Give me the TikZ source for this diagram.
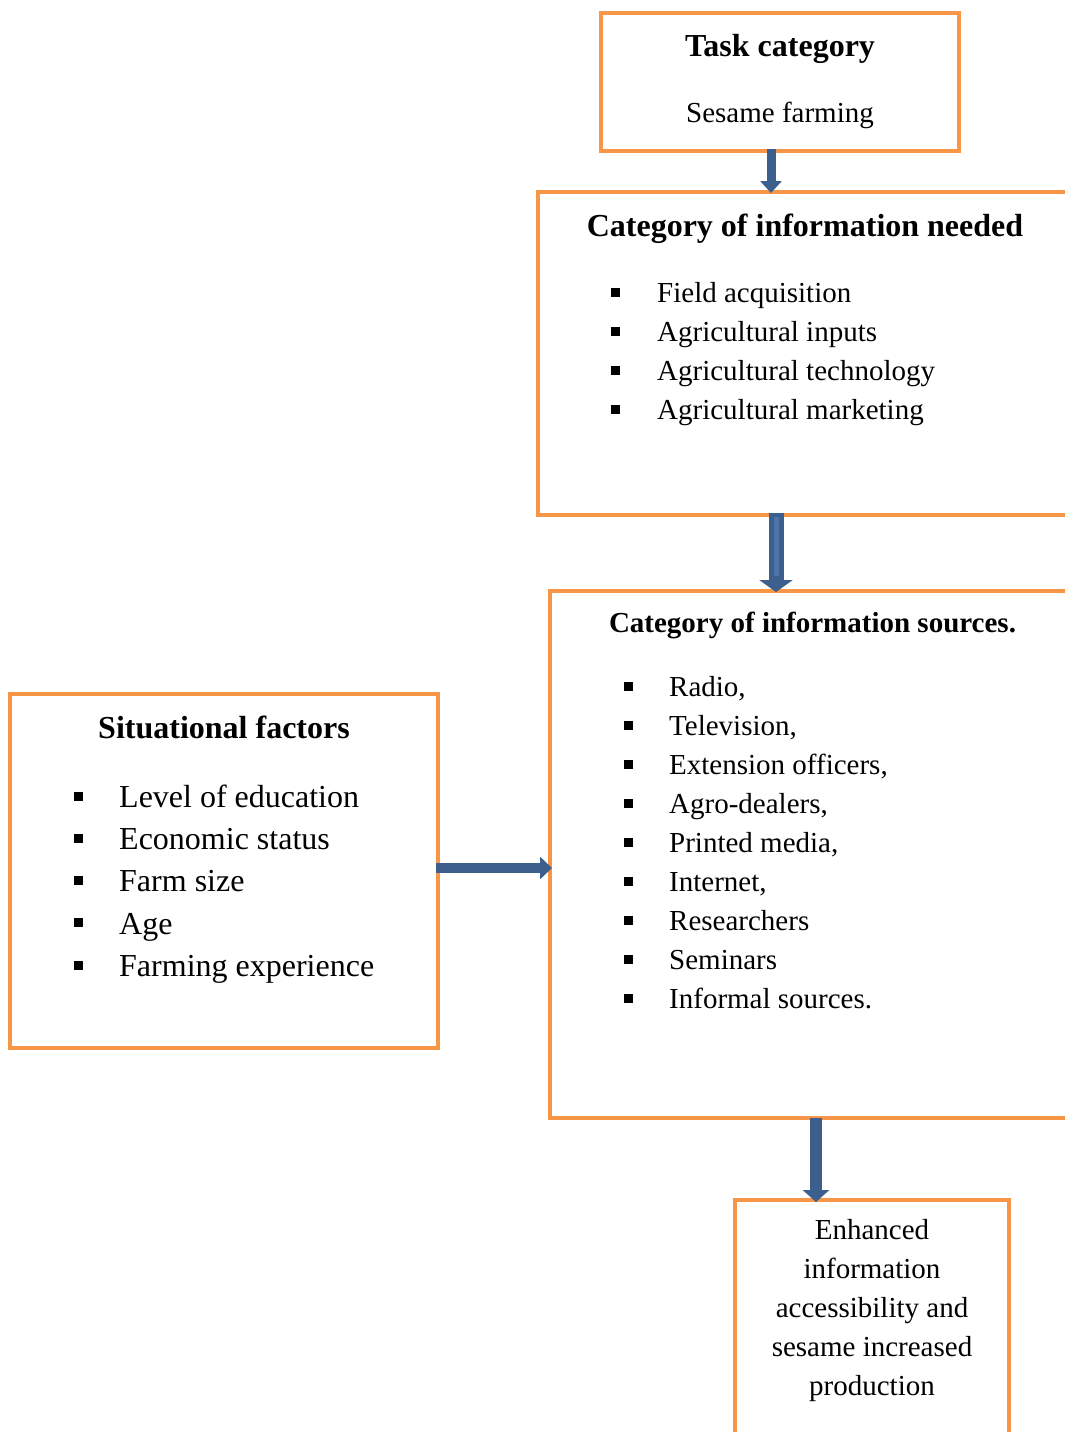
\documentclass[tikz,border=0pt]{standalone}
\usepackage{fontspec}
\setmainfont{Liberation Serif}
\usetikzlibrary{arrows.meta}
\definecolor{boxorange}{HTML}{F79646}
\definecolor{arrowblue}{HTML}{3C5F8E}
\definecolor{arrowlight}{HTML}{4E74A8}
\tikzset{
	framebox/.style 2 args={draw=boxorange,line width=4pt,rectangle,inner sep=0pt,minimum width=#1pt,minimum height=#2pt},
	even/.style={text height=0.7em,text depth=0.25em},
	bigtitle/.style={font=\fontsize{32}{38}\selectfont\bfseries,even},
	smalltitle/.style={font=\fontsize{29}{35}\selectfont\bfseries,even},
	bigtext/.style={font=\fontsize{32}{38}\selectfont,anchor=west,inner sep=0pt,even},
	smalltext/.style={font=\fontsize{29}{35}\selectfont,anchor=west,inner sep=0pt,even},
	bulletsq/.style={fill=black,inner sep=0pt,minimum size=9pt},
	blockarrow/.style 2 args={draw=arrowblue,line width=#1pt,-{Triangle[width=#2pt,length=12pt]}},
	stripe/.style={postaction={draw=arrowlight,line width=5pt,-,shorten >=16pt,shorten <=4pt}}
}
\begin{document}
\begin{tikzpicture}[x=1pt,y=-1pt]
	\useasboundingbox (0,0) rectangle (1065,1432);
	\clip (0,0) rectangle (1065,1432);

	\node[framebox={358}{138}] (task) at (780,82) {};
	\node[bigtitle] (tasktitle) at (780,54) {Task category};
	\node[font=\fontsize{29}{35}\selectfont,even] (tasksub) at (780,120) {Sesame farming};

	\node[framebox={547}{323}] (needed) at (811.5,353.5) {};
	\node[bigtitle] (neededtitle) at (805,234) {Category of information needed};
	\foreach \item [count=\i] in {Field acquisition,Agricultural inputs,Agricultural technology,Agricultural marketing}{
		\node[bulletsq] (nb\i) at (615,{253+39*\i}) {};
		\node[smalltext] (nt\i) at (657,{261+39*\i}) {\item};
	}

	\node[framebox={535}{527}] (sources) at (817.5,854.5) {};
	\node[smalltitle] (sourcestitle) at (812.5,630) {Category of information sources.};
	\foreach \item [count=\i] in {{Radio,},{Television,},{Extension officers,},{Agro-dealers,},{Printed media,},{Internet,},Researchers,Seminars,Informal sources.}{
		\node[bulletsq] (sb\i) at (628,{647+39*\i}) {};
		\node[smalltext] (st\i) at (669,{655+39*\i}) {\item};
	}

	\node[framebox={428}{354}] (situation) at (224,871) {};
	\node[bigtitle] (situationtitle) at (224,736) {Situational factors};
	\foreach \item [count=\i] in {Level of education,Economic status,Farm size,Age,Farming experience}{
		\node[bulletsq] (fb\i) at (78,{754+42.2*\i}) {};
		\node[bigtext] (ft\i) at (119,{763+42.2*\i}) {\item};
	}

	\node[framebox={274}{260}] (outcome) at (872,1330) {};
	\node[font=\fontsize{29}{39}\selectfont,align=center,inner sep=0pt] (outcometext) at (872,1311) {Enhanced\\information\\accessibility and\\sesame increased\\production};

	\draw[blockarrow={9}{21}] ([xshift=-9pt,yshift=4pt]task.south) -- ([xshift=-9pt,yshift=-3pt]task.south |- needed.north);
	\draw[blockarrow={15}{33},stripe] ([xshift=-35.5pt,yshift=4pt]needed.south) -- ([xshift=-35.5pt,yshift=-3pt]needed.south |- sources.north);
	\draw[blockarrow={10}{22}] ([xshift=-4pt,yshift=3pt]situation.east) -- ([xshift=4pt,yshift=3pt]situation.east -| sources.west);
	\draw[blockarrow={12}{26}] ([xshift=-1.5pt,yshift=2pt]sources.south) -- ([xshift=-1.5pt,yshift=-4pt]sources.south |- outcome.north);
\end{tikzpicture}
\end{document}
